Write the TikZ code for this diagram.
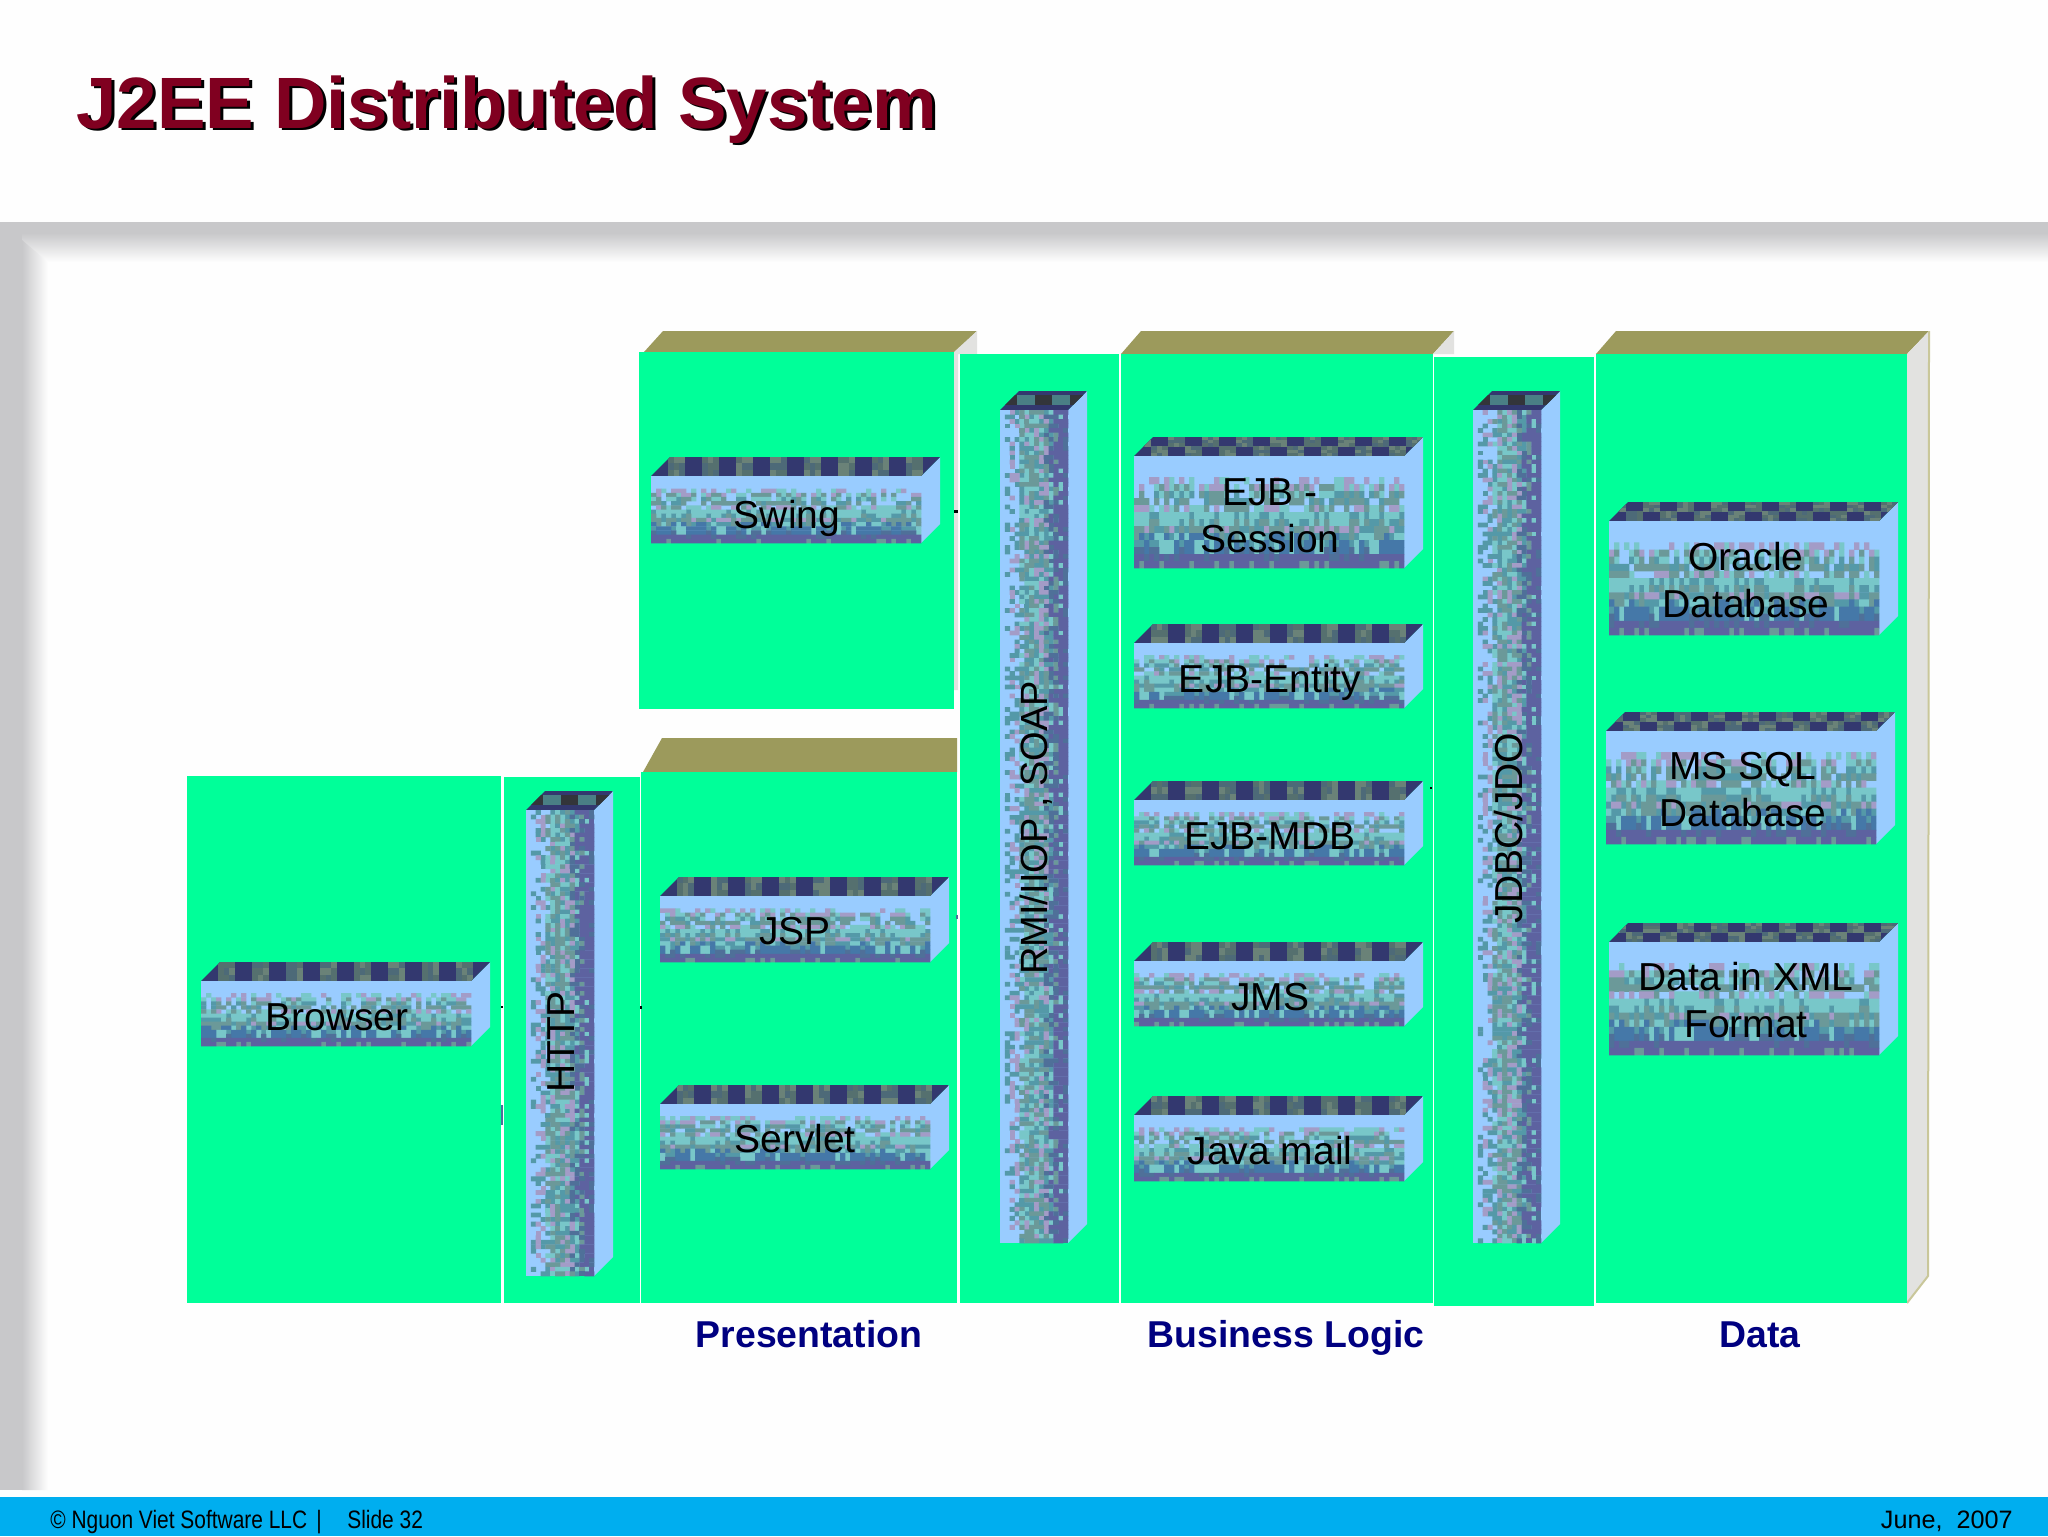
\documentclass[tikz,border=0pt]{standalone}
\usepackage{fontspec}
\setmainfont{Liberation Sans}
\definecolor{panelgreen}{HTML}{00FF99}
\definecolor{olive}{HTML}{9C9A5C}
\definecolor{sidegray}{HTML}{E2E2E0}
\definecolor{creamline}{HTML}{C9C79A}
\definecolor{titlered}{HTML}{800020}
\definecolor{labelnavy}{HTML}{000080}
\definecolor{footerblue}{HTML}{00AEEF}
\definecolor{bandgray}{HTML}{C8C8CA}
\definecolor{pageback}{HTML}{FEFEFE}
\definecolor{mL}{HTML}{99CCFF}
\definecolor{mD}{HTML}{4D6F9A}
\definecolor{topnavy}{HTML}{33386F}
\definecolor{topa}{HTML}{55706F}
\definecolor{topb}{HTML}{6A8278}
\definecolor{topc}{HTML}{4D6A78}
\definecolor{topdark}{HTML}{33353A}
\definecolor{topteal}{HTML}{4A7F85}
\newcommand{\defpal}[5]{%
  \expandafter\def\csname #1@0\endcsname{#2}%
  \expandafter\def\csname #1@1\endcsname{#3}%
  \expandafter\def\csname #1@2\endcsname{#4}%
  \expandafter\def\csname #1@3\endcsname{#5}}
\newcommand{\hpal}[5]{\defpal{h#1}{#2}{#3}{#4}{#5}}
\newcommand{\vpal}[5]{\defpal{v#1}{#2}{#3}{#4}{#5}}
\hpal{0}LLLL \hpal{1}LLLL \hpal{2}LLLL \hpal{3}LVLC
\hpal{4}VCLG \hpal{5}GTLC \hpal{6}GTLG \hpal{7}VGCL
\hpal{8}CTCC \hpal{9}CGTC \hpal{10}GVGT \hpal{11}GTBC
\hpal{12}BCBT \hpal{13}BCBD \hpal{14}PPDP \hpal{15}PPPG
\vpal{0}LLLL \vpal{1}LLLT \vpal{2}LVTL \vpal{3}LTVL
\vpal{4}GTLC \vpal{5}TCGV \vpal{6}CGGT \vpal{7}CGTV
\vpal{8}TGCV \vpal{9}TDVG \vpal{10}DPTC \vpal{11}PDGP
\vpal{12}PPCP \vpal{13}PPPD
\tikzset{
  panel/.style={fill=panelgreen},
  topface/.style={fill=olive},
  sideface/.style={fill=sidegray},
  boxtext/.style={font=\fontsize{19.5}{23.5}\selectfont,text=black,align=center,inner sep=0pt},
  tiertext/.style={font=\fontsize{18.7}{22}\selectfont\bfseries,text=labelnavy,inner sep=0pt,anchor=base},
  foottext/.style={font=\fontsize{12.6}{15}\selectfont,text=black,inner sep=0pt},
  speck/.style={fill=black}
}
\makeatletter
\newcount\mosI \newcount\mosJ \newcount\mosNI \newcount\mosNJ
\def\sL{}\def\sT{}\def\sC{}\def\sV{}\def\sG{}\def\sB{}\def\sP{}\def\sD{}
\def\celliter{%
  \ifnum\mosI<\mosNI
    \ifodd\mosJ
      \ifnum\mosrepeat=1
        \edef\rr{\csname rc\the\mosI\endcsname}%
      \else
        \pgfmathrandominteger{\rr}{0}{3}%
      \fi
    \else
      \pgfmathrandominteger{\rr}{0}{3}%
      \expandafter\xdef\csname rc\the\mosI\endcsname{\rr}%
    \fi
    \edef\letter{\csname\mospref\the\mosidx @\rr\endcsname}%
    \expandafter\edef\csname s\letter\endcsname{\csname s\letter\endcsname\the\mosI\space\the\mosJ\space 1.06 1.06 re }%
    \advance\mosI 1
    \expandafter\celliter
  \fi}
\def\flushc#1#2{%
  \expandafter\ifx\csname s#1\endcsname\empty\else
    \pgfsys@invoke{#2 rg \csname s#1\endcsname f }%
  \fi
  \expandafter\def\csname s#1\endcsname{}}
\def\rowiter{%
  \ifnum\mosJ<\mosNJ
    \mosI=0 \celliter
    \def\sL{}%
    \flushc{T}{.33 .6 .66}\flushc{C}{.47 .78 .79}\flushc{V}{.64 .61 .78}%
    \flushc{G}{.42 .6 .6}\flushc{B}{.27 .47 .66}\flushc{P}{.365 .384 .627}%
    \flushc{D}{.31 .44 .6}%
    \advance\mosJ 1
    \expandafter\rowiter
  \fi}
\newcommand{\mosaic}[9]{%
  \begin{pgfscope}
  \pgfmathsetmacro\mosa{(#3-#1)/#5*0.5*0.99626}%
  \pgfmathsetmacro\mosd{(#2-#4)/#6*0.5*0.99626}%
  \pgftransformcm{\mosa}{0}{0}{\mosd}{\pgfpoint{#1*0.5pt}{-#2*0.5pt}}%
  \pgflowlevelsynccm
  \def\mospref{#7}\let\mosidx=#8\def\mosrepeat{#9}%
  \mosNI=#5 \mosNJ=#6 \mosJ=0
  \rowiter
  \end{pgfscope}}
\makeatother
\newcommand{\cubeH}[5]{%
  \def\xa{#1}\def\ya{#2}\def\xb{#3}\def\yb{#4}\def\dd{19}%
  \fill[mL] (\xb,\ya) -- (\xb+\dd,\ya-\dd) -- (\xb+\dd,\yb-\dd) -- (\xb,\yb) -- cycle;
  \fill[mL] (\xa,\ya) rectangle (\xb,\yb);
  \mosaic{#1}{#2}{#3}{#4}{54}{16}{h}{\mosJ}{1}%
  \begin{scope}
  \clip (\xa,\ya) -- (\xb,\ya) -- (\xb+\dd,\ya-\dd) -- (\xa+\dd,\ya-\dd) -- cycle;
  \fill[topnavy] (\xa,\ya) rectangle (\xb+\dd,\ya-\dd);
  \pgfmathsetmacro\cu{(\xb+\dd-\xa)/17}%
  \pgfmathsetmacro\cv{\dd/#5}%
  \pgfmathtruncatemacro\lastv{#5-1}%
  \foreach \j in {0,...,\lastv}{\foreach \i in {0,...,16}{%
    \pgfmathtruncatemacro\oddp{mod(\i+\j,2)}%
    \ifnum\oddp=1
      \foreach \su in {0,1,2}{\foreach \sv in {0,1,2}{%
        \pgfmathrandominteger{\rr}{0}{2}%
        \edef\cc{\ifcase\rr topa\or topb\else topc\fi}%
        \pgfmathsetmacro\uo{\i*\cu+\su*\cu/3}%
        \pgfmathsetmacro\vo{\j*\cv+\sv*\cv/3}%
        \fill[color=\cc] (\xa+\uo,\ya-\vo) rectangle (\xa+\uo+\cu/3+.3,\ya-\vo-\cv/3-.3);
      }}%
    \fi
  }}%
  \end{scope}
}
\newcommand{\cubeV}[4]{%
  \def\xa{#1}\def\ya{#2}\def\xb{#3}\def\yb{#4}\def\dd{19}%
  \fill[mL] (\xb,\ya) -- (\xb+\dd,\ya-\dd) -- (\xb+\dd,\yb-\dd) -- (\xb,\yb) -- cycle;
  \fill[mL] (\xa,\ya) rectangle (\xb,\yb);
  \pgfmathtruncatemacro\nrows{(\yb-\ya)/4.5}%
  \mosaic{#1}{#2}{#3}{#4}{14}{\nrows}{v}{\mosI}{0}%
  \begin{scope}
  \clip (\xa,\ya) -- (\xb,\ya) -- (\xb+\dd,\ya-\dd) -- (\xa+\dd,\ya-\dd) -- cycle;
  \fill[topnavy] (\xa,\ya) rectangle (\xb+\dd,\ya-\dd);
  \pgfmathsetmacro\cu{(\xb+\dd-\xa)/5}%
  \foreach \i in {0,...,4}{%
    \pgfmathtruncatemacro\oddp{mod(\i,2)}%
    \edef\cc{\ifnum\oddp=0 topdark\else topteal\fi}%
    \fill[color=\cc] (\xa+\i*\cu,\ya-5) rectangle (\xa+\i*\cu+\cu,\ya-15);
  }%
  \end{scope}
}
\pgfmathsetseed{4242}
\begin{document}
\begin{tikzpicture}[x=0.5pt,y=-0.5pt]
\useasboundingbox (0,0) rectangle (2048,1536);
\fill[pageback] (0,0) rectangle (2048,1536);
% slide frame shadow
\fill[bandgray] (0,222) rectangle (2048,233);
\shade[top color=bandgray,bottom color=pageback] (0,233) rectangle (2048,262);
\fill[bandgray] (0,222) rectangle (22,1490);
\shade[left color=bandgray,right color=pageback] (22,240) -- (48,262) -- (48,1490) -- (22,1490) -- cycle;
% footer
\fill[footerblue] (0,1497) rectangle (2048,1536);
% depth faces
\fill[topface] (644,352) -- (663,331) -- (977,331) -- (955,352) -- cycle;
\fill[sideface] (954,352) -- (977,331) -- (977,354) -- (958,354) -- (958,690) -- (954,690) -- cycle;
\fill[topface] (643,772) -- (662,738) -- (957,738) -- (957,772) -- cycle;
\fill[topface] (1121,354) -- (1141,331) -- (1454,331) -- (1433,354) -- cycle;
\fill[sideface] (1433,354) -- (1454,331) -- (1454,354) -- cycle;
\fill[topface] (1596,354) -- (1616,331) -- (1929,331) -- (1907,354) -- cycle;
\fill[sideface] (1907,354) -- (1929,331) -- (1928,1276) -- (1907,1303) -- cycle;
\draw[creamline,line width=1pt] (1929,331) -- (1928,1276) -- (1907,1303);
% panels
\fill[panel] (639,352) rectangle (954,709);
\fill[panel] (187,776) rectangle (501,1303);
\fill[panel] (504,777) rectangle (640,1303);
\fill[panel] (641,772) rectangle (957,1303);
\fill[panel] (960,354) rectangle (1119,1303);
\fill[panel] (1121,354) rectangle (1433,1303);
\fill[panel] (1434,357) rectangle (1594,1306);
\fill[panel] (1596,354) rectangle (1907,1303);
% specks
\fill[speck] (954,510) rectangle (958,513);
\fill[speck] (640,1006) rectangle (642,1009);
\fill[speck] (501,1006) rectangle (503,1008);
\fill[speck] (1430,787) rectangle (1432,789);
\fill[mD] (956,915) rectangle (958,919);
\fill[mD] (501,1105) rectangle (503,1125);
% boxes
\cubeV{526}{810}{594}{1276}
\cubeV{1000}{410}{1068}{1243}
\cubeV{1473}{410}{1541}{1243}
\cubeH{201}{981}{471}{1046}{1}
\cubeH{651}{476}{921}{543}{1}
\cubeH{660}{896}{930}{962}{1}
\cubeH{660}{1104}{930}{1169}{1}
\cubeH{1134}{456}{1404}{568}{2}
\cubeH{1134}{643}{1404}{708}{1}
\cubeH{1134}{800}{1404}{865}{1}
\cubeH{1134}{961}{1404}{1026}{1}
\cubeH{1134}{1115}{1404}{1181}{1}
\cubeH{1609}{521}{1879}{635}{2}
\cubeH{1606}{731}{1876}{844}{2}
\cubeH{1609}{942}{1879}{1055}{2}
% box labels
\node[boxtext] (browser) at (337,1017) {Browser};
\node[boxtext,rotate=90] (http) at (561,1042) {HTTP};
\node[boxtext] (swing) at (787,518) {Swing};
\node[boxtext] (jsp) at (795,931) {JSP};
\node[boxtext] (servlet) at (795,1139) {Servlet};
\node[boxtext,font=\fontsize{19}{23}\selectfont,rotate=90] (rmi) at (1036,828) {RMI/IIOP , SOAP};
\node[boxtext] (session) at (1270,516) {EJB -\\Session};
\node[boxtext] (entity) at (1270,682) {EJB-Entity};
\node[boxtext] (mdb) at (1270,836) {EJB-MDB};
\node[boxtext] (jms) at (1270,997) {JMS};
\node[boxtext] (mail) at (1270,1151) {Java mail};
\node[boxtext,rotate=90] (jdbc) at (1509,828) {JDBC/JDO};
\node[boxtext] (oracle) at (1746,580) {Oracle\\Database};
\node[boxtext] (mssql) at (1743,790) {MS SQL\\Database};
\node[boxtext] (xml) at (1746,1000) {Data in XML\\Format};
% tier labels
\node[tiertext] (presentation) at (809,1347) {Presentation};
\node[tiertext] (business) at (1286,1347) {Business Logic};
\node[tiertext] (datatier) at (1760,1347) {Data};
% title
\node[anchor=base west,inner sep=0pt,font=\fontsize{36.35}{40}\selectfont\bfseries,text=black] (titleshadow) at (79,131) {J2EE Distributed System};
\node[anchor=base west,inner sep=0pt,font=\fontsize{36.35}{40}\selectfont\bfseries,text=titlered] (title) at (76,128) {J2EE Distributed System};
% footer text
\node[foottext,anchor=base west,xscale=.83] (copyright) at (50,1528) {© Nguon Viet Software LLC};
\node[foottext,anchor=base west,xscale=.83] (bar) at (316,1528) {|};
\node[foottext,anchor=base west,xscale=.83] (slide) at (347,1528) {Slide 32};
\node[foottext,anchor=base east] (date) at (2013,1528) {June,\ \ 2007};
\end{tikzpicture}
\end{document}
